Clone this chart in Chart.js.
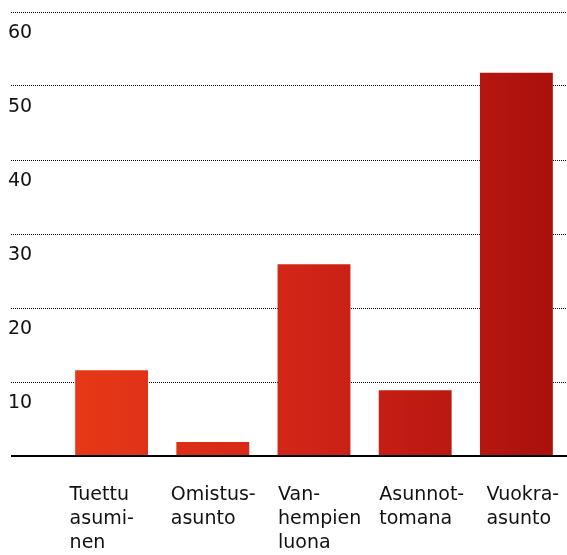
<!DOCTYPE html>
<html>
<head>
<meta charset="utf-8">
<script src="https://cdn.jsdelivr.net/npm/chart.js@4"></script>
<style>
  html, body { margin: 0; padding: 0; background: #fff; }
  #wrap { width: 567px; height: 555px; position: relative; }
</style>
</head>
<body>
<div id="wrap"><canvas id="asuminen"></canvas></div>
<script>
// labels are hyphenated like in the original, leading spaces nudge lines into place
const categories = [
  ['Tuettu', 'asumi-', 'nen'],
  ['Omistus-', 'asunto'],
  [' Van-', ' hempien', ' luona'],
  [' Asunnot-', ' tomana'],
  ['  Vuokra-', '  asunto']
];
const shares = [11.6, 1.9, 25.9, 8.9, 51.8];
const yMax = 60;
const yStep = 10;

const fontFamily = '"DejaVu Sans", sans-serif';

// horizontal red gradient across the plot
function barGradient(context) {
  const chart = context.chart;
  const area = chart.chartArea;
  if (!area) return '#d02518';
  const g = chart.ctx.createLinearGradient(area.left, 0, area.right, 0);
  g.addColorStop(0, '#e83a17');
  g.addColorStop(0.5, '#cf2317');
  g.addColorStop(1, '#a80f0c');
  return g;
}

const isZero = ctx => ctx.tick && ctx.tick.value === 0;

new Chart(document.getElementById('asuminen'), {
  type: 'bar',
  data: {
    labels: categories,
    datasets: [{
      data: shares,
      backgroundColor: barGradient,
      borderWidth: 0,
      barPercentage: 0.72,
      categoryPercentage: 1
    }]
  },
  options: {
    responsive: true,
    maintainAspectRatio: false,
    animation: false,
    layout: { padding: { top: 12, left: 8, right: 0, bottom: 0 } },
    plugins: {
      legend: { display: false },
      tooltip: { enabled: false }
    },
    scales: {
      x: {
        grid: { display: true, drawOnChartArea: false, drawTicks: false },
        border: { display: true, color: '#000', width: 2 },
        ticks: {
          autoSkip: false,
          maxRotation: 0,
          align: 'start',
          labelOffset: -42,
          padding: 27,
          color: '#111',
          font: { family: fontFamily, size: 19, lineHeight: 24 / 19 }
        },
        afterFit(scale) {
          scale.height = 99;
          scale.paddingLeft = 0;
          scale.paddingRight = 0;
        }
      },
      y: {
        min: 0,
        max: yMax,
        border: { display: false, dash: [1, 1] },
        grid: {
          // zero line: hidden in the plot (x border draws it), solid in the tick area
          color: ctx => isZero(ctx) ? 'rgba(0,0,0,0)' : '#000',
          lineWidth: ctx => isZero(ctx) ? 2 : 1,
          drawTicks: true,
          tickLength: 50,
          tickColor: '#000',
          tickWidth: ctx => isZero(ctx) ? 2 : 1,
          tickBorderDash: ctx => isZero(ctx) ? [] : [1, 1]
        },
        ticks: {
          stepSize: yStep,
          crossAlign: 'far',
          labelOffset: 21,
          color: '#111',
          font: { family: fontFamily, size: 19 },
          callback: v => v === 0 ? '' : String(v)
        },
        afterFit(scale) {
          scale.width = 53;
          scale.paddingTop = 0;
          scale.paddingBottom = 0;
        }
      }
    }
  }
});
</script>
</body>
</html>
